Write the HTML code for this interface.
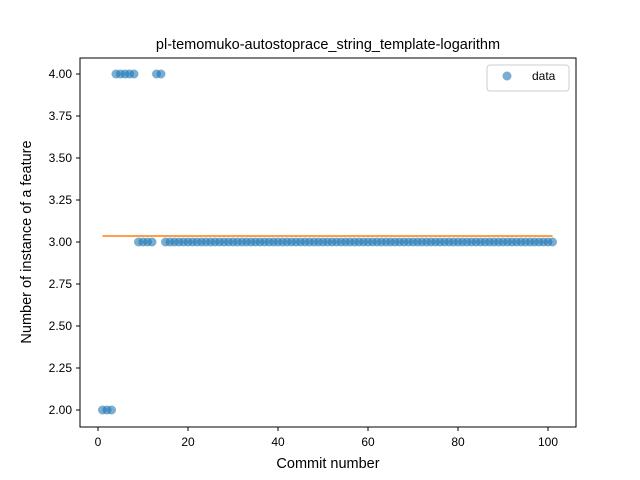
<!DOCTYPE html>
<html><head><meta charset="utf-8"><style>body{margin:0;background:#fff}svg{display:block;font-family:"Liberation Sans","DejaVu Sans",sans-serif}</style></head>
<body>
<svg id="chart" width="640" height="480" xmlns="http://www.w3.org/2000/svg">
<rect width="640" height="480" fill="#fff"/>
<text x="328" y="49" text-anchor="middle" font-size="14.5">pl-temomuko-autostoprace_string_template-logarithm</text>
<g id="plot"></g>
<rect x="80" y="58" width="496" height="369" fill="none" stroke="#000" stroke-width="1"/>
<text x="328" y="468" text-anchor="middle" font-size="14.5">Commit number</text>
<text transform="translate(31,242) rotate(-90)" text-anchor="middle" font-size="14.5">Number of instance of a feature</text>
<g>
<rect x="487" y="65" width="82" height="26" rx="3" fill="#fff" stroke="#ccc"/>
<circle cx="507" cy="76" r="4.5" fill="#1f77b4" fill-opacity="0.6"/>
<text x="532" y="80" font-size="12">data</text>
</g>
</svg>
<script>
const xTicks=[0,20,40,60,80,100];
const yTicks=[2.00,2.25,2.50,2.75,3.00,3.25,3.50,3.75,4.00];
const commits=[];for(let i=1;i<=101;i++)commits.push(i);
const values=[2,2,2,4,4,4,4,4,3,3,3,3,4,4].concat(new Array(87).fill(3));
const fitX=[1,101];
const fitY=[3.036,3.036];
const X=v=>98+(v-0)*4.5;
const Y=v=>74+(4-v)*168;
const g=document.getElementById('plot');
const NS='http://www.w3.org/2000/svg';
function mk(t,a){const e=document.createElementNS(NS,t);for(const k in a)e.setAttribute(k,a[k]);g.appendChild(e);return e;}
xTicks.forEach(v=>{
const l=mk('line',{x1:X(v),x2:X(v),y1:427,y2:431,stroke:'#000'});


const t=mk('text',{x:X(v),y:446,'text-anchor':'middle','font-size':'12'});t.textContent=v;


});
yTicks.forEach(v=>{
const l=mk('line',{x1:76,x2:80,y1:Y(v),y2:Y(v),stroke:'#000'});


const t=mk('text',{x:72,y:Y(v)+4,'text-anchor':'end','font-size':'12'});t.textContent=v.toFixed(2);


});
commits.forEach((c,i)=>{
const p=mk('circle',{cx:X(c),cy:Y(values[i]),r:4.5,fill:'#1f77b4','fill-opacity':0.6});


});
const fl=mk('line',{x1:X(fitX[0]),x2:X(fitX[1]),y1:Y(fitY[0]),y2:Y(fitY[1]),stroke:'#ff7f0e','stroke-width':1.5});


</script>
</body></html>
